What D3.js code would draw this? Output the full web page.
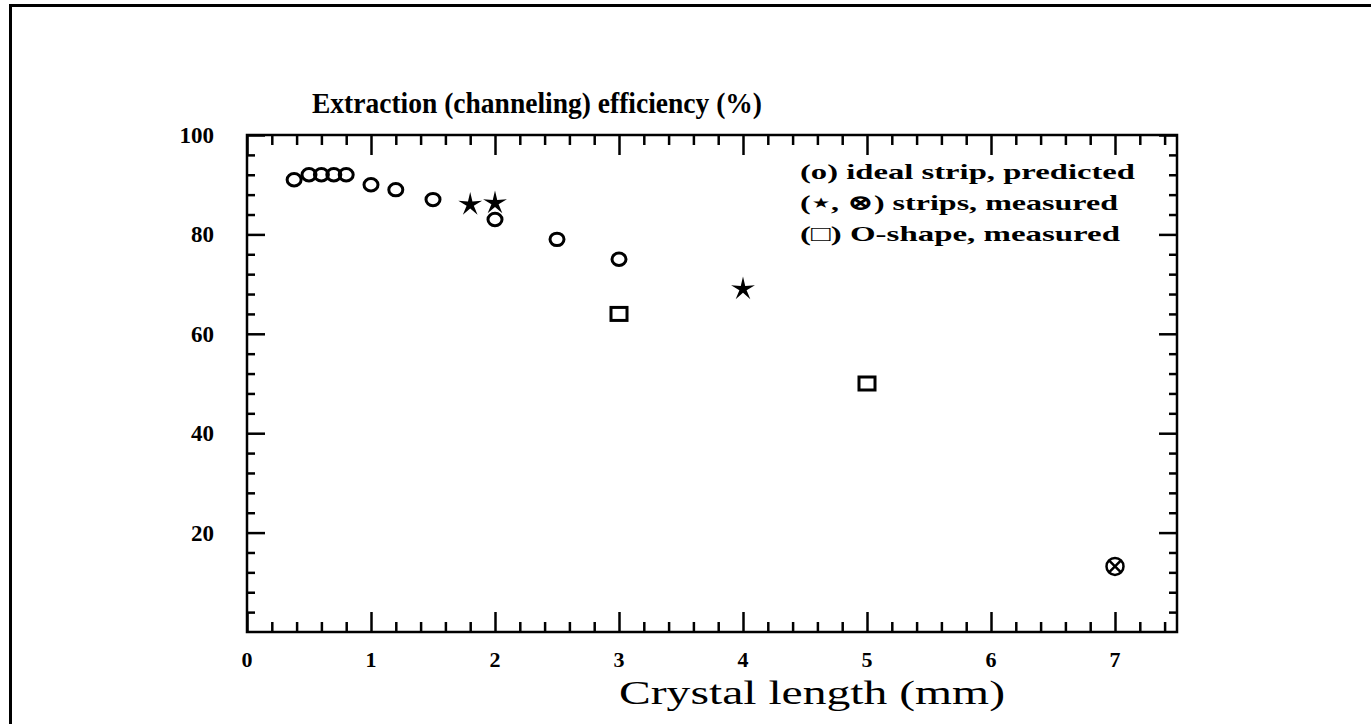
<!DOCTYPE html>
<html>
<head>
<meta charset="utf-8">
<script src="https://cdn.jsdelivr.net/npm/d3@7"></script>
<style>
  body { margin: 0; background: #fff; }
  svg { display: block; }
</style>
</head>
<body>
<div id="chart-area"></div>
<script>
// data
const predictedX = [0.38, 0.5, 0.6, 0.7, 0.8, 1.0, 1.2, 1.5, 2.0, 2.5, 3.0];
const predictedY = [91, 92, 92, 92, 92, 90, 89, 87, 83, 79, 75];
const stripX = [1.8, 2.0, 4.0];
const stripY = [86, 86.3, 69];
const stripCrossX = [7.0];
const stripCrossY = [13.2];
const oshapeX = [3.0, 5.0];
const oshapeY = [64, 50];

const xTicks = [0, 1, 2, 3, 4, 5, 6, 7];
const yTicks = [20, 40, 60, 80, 100];
const legendLines = [
  "(o) ideal strip, predicted",
  "(\u22C6, \u2297) strips, measured",
  "(\u25A1) O-shape, measured"
];
const titleText = "Extraction (channeling) efficiency (%)";
const xLabel = "Crystal length (mm)";

// canvas
const W = 1371, H = 724;
const plot = {LEFT: 247, TOP: 135, RIGHT: 1177, BOTTOM: 632};

let svg = d3.select("#chart-area").append("svg")
            .attr("width", W)
            .attr("height", H);

// page border (left and top only are in view)
svg.append("rect")
   .attr("x", 10.5).attr("y", 5.5)
   .attr("width", 1380).attr("height", 740)
   .attr("fill", "none")
   .attr("stroke", "black")
   .attr("stroke-width", 3);

var x = d3.scaleLinear().domain([0, 7.5]).range([plot.LEFT, plot.RIGHT]);
var y = d3.scaleLinear().domain([0, 100]).range([plot.BOTTOM, plot.TOP]);

const minorX = d3.range(0, 7.5001, 0.2).filter(v => Math.abs(v - Math.round(v)) > 1e-6);
const minorY = d3.range(0, 100.001, 4).filter(v => v % 20 !== 0);

// frame
svg.append("rect")
   .attr("x", plot.LEFT).attr("y", plot.TOP)
   .attr("width", plot.RIGHT - plot.LEFT)
   .attr("height", plot.BOTTOM - plot.TOP)
   .attr("fill", "none")
   .attr("stroke", "black")
   .attr("stroke-width", 2.5);

// ticks pointing inward on all four sides
function tickAxis(axisFn, scale, values, size, transform) {
  let g = svg.append("g")
             .attr("transform", transform)
             .call(axisFn(scale).tickValues(values).tickSize(-size).tickFormat(""));
  g.select(".domain").remove();
  g.selectAll("line").attr("stroke", "black").attr("stroke-width", 2.5);
  return g;
}
tickAxis(d3.axisBottom, x, xTicks, 20, `translate(0,${plot.BOTTOM})`);
tickAxis(d3.axisBottom, x, minorX, 10, `translate(0,${plot.BOTTOM})`);
tickAxis(d3.axisTop, x, xTicks, 20, `translate(0,${plot.TOP})`);
tickAxis(d3.axisTop, x, minorX, 10, `translate(0,${plot.TOP})`);
tickAxis(d3.axisLeft, y, yTicks, 18, `translate(${plot.LEFT},0)`);
tickAxis(d3.axisLeft, y, minorY, 8, `translate(${plot.LEFT},0)`);
tickAxis(d3.axisRight, y, yTicks, 18, `translate(${plot.RIGHT},0)`);
tickAxis(d3.axisRight, y, minorY, 8, `translate(${plot.RIGHT},0)`);

// tick labels
svg.append("g").selectAll("text")
   .data(xTicks).enter().append("text")
   .attr("x", d => x(d))
   .attr("y", 667)
   .attr("text-anchor", "middle")
   .attr("font-family", "Liberation Serif, serif")
   .attr("font-weight", "bold")
   .attr("font-size", "22px")
   .text(d => d);

svg.append("g").selectAll("text")
   .data(yTicks).enter().append("text")
   .attr("x", 214)
   .attr("y", d => y(d) + 8)
   .attr("text-anchor", "end")
   .attr("font-family", "Liberation Serif, serif")
   .attr("font-weight", "bold")
   .attr("font-size", "23px")
   .text(d => d);

// title and axis label
svg.append("text")
   .attr("x", 312).attr("y", 113)
   .attr("font-family", "Liberation Serif, serif")
   .attr("font-weight", "bold")
   .attr("font-size", "30px")
   .attr("textLength", 450)
   .attr("lengthAdjust", "spacingAndGlyphs")
   .text(titleText);

svg.append("text")
   .attr("x", 619).attr("y", 704)
   .attr("font-family", "Liberation Serif, serif")
   .attr("font-size", "33px")
   .attr("textLength", 386)
   .attr("lengthAdjust", "spacingAndGlyphs")
   .text(xLabel);

// legend
const legendW = [335, 318, 320];
svg.append("g").selectAll("text")
   .data(legendLines).enter().append("text")
   .attr("x", 800)
   .attr("y", (d, i) => 179 + i * 31)
   .attr("font-family", "Liberation Serif, DejaVu Serif, serif")
   .attr("font-weight", "bold")
   .attr("font-size", "22px")
   .attr("textLength", (d, i) => legendW[i])
   .attr("lengthAdjust", "spacingAndGlyphs")
   .text(d => d);

// markers
const marks = svg.append("g").attr("id", "marks");

// (o) predicted
marks.selectAll(".pred")
     .data(d3.zip(predictedX, predictedY)).enter()
     .append("ellipse")
     .attr("class", "pred")
     .attr("cx", d => x(d[0]))
     .attr("cy", d => y(d[1]))
     .attr("rx", 7).attr("ry", 6.2)
     .attr("fill", "none")
     .attr("stroke", "black")
     .attr("stroke-width", 3);

// stars: thin five-pointed star
const starPts = d3.range(10).map(i => [i * Math.PI / 5, i % 2 === 0 ? 12.5 : 3.8]);
const starPath = d3.lineRadial().curve(d3.curveLinearClosed)(starPts);
marks.selectAll(".star")
     .data(d3.zip(stripX, stripY)).enter()
     .append("path")
     .attr("class", "star")
     .attr("d", starPath)
     .attr("transform", d => `translate(${x(d[0])},${y(d[1])})`)
     .attr("fill", "black");

// squares
marks.selectAll(".sq")
     .data(d3.zip(oshapeX, oshapeY)).enter()
     .append("rect")
     .attr("class", "sq")
     .attr("x", d => x(d[0]) - 8)
     .attr("y", d => y(d[1]) - 6.5)
     .attr("width", 16).attr("height", 13)
     .attr("fill", "none")
     .attr("stroke", "black")
     .attr("stroke-width", 3);

// circled cross
let cross = marks.selectAll(".cross")
     .data(d3.zip(stripCrossX, stripCrossY)).enter()
     .append("g")
     .attr("class", "cross")
     .attr("transform", d => `translate(${x(d[0])},${y(d[1])})`);
cross.append("circle").attr("r", 8.5)
     .attr("fill", "none").attr("stroke", "black").attr("stroke-width", 2.5);
cross.append("path").attr("d", "M-6,-6L6,6M6,-6L-6,6")
     .attr("stroke", "black").attr("stroke-width", 2.5);
</script>
</body>
</html>
